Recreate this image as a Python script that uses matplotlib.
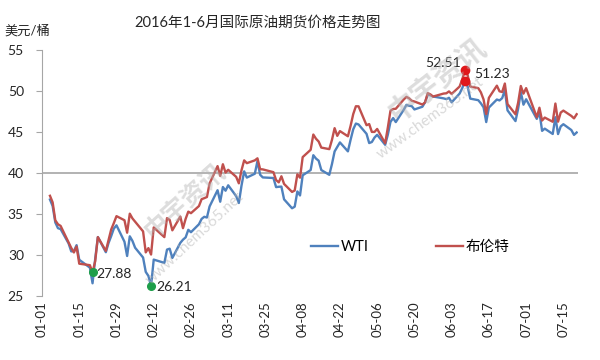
import numpy as np
import pandas as pd
import matplotlib
matplotlib.use("Agg")
import matplotlib.pyplot as plt

plt.rcParams['font.family'] = ['Lato', 'Noto Sans CJK SC', 'DejaVu Sans']

'''
Data:
'''
days_jan = ["01-04", "01-05", "01-06", "01-07", "01-08", "01-11", "01-12", "01-13", "01-14", "01-15",
            "01-19", "01-20", "01-21", "01-22", "01-25", "01-26", "01-27", "01-28", "01-29"]
days_feb = ["02-01", "02-02", "02-03", "02-04", "02-05", "02-08", "02-09", "02-10", "02-11", "02-12",
            "02-16", "02-17", "02-18", "02-19", "02-22", "02-23", "02-24", "02-25", "02-26", "02-29"]
days_mar = ["03-01", "03-02", "03-03", "03-04", "03-07", "03-08", "03-09", "03-10", "03-11", "03-14",
            "03-15", "03-16", "03-17", "03-18", "03-21", "03-22", "03-23", "03-24", "03-28", "03-29",
            "03-30", "03-31"]
days_apr = ["04-01", "04-04", "04-05", "04-06", "04-07", "04-08", "04-11", "04-12", "04-13", "04-14",
            "04-15", "04-18", "04-19", "04-20", "04-21", "04-22", "04-25", "04-26", "04-27", "04-28",
            "04-29"]
days_may = ["05-02", "05-03", "05-04", "05-05", "05-06", "05-09", "05-10", "05-11", "05-12", "05-13",
            "05-16", "05-17", "05-18", "05-19", "05-20", "05-23", "05-24", "05-25", "05-26", "05-27",
            "05-31"]
days_jun = ["06-01", "06-02", "06-03", "06-06", "06-07", "06-08", "06-09", "06-10", "06-13", "06-14",
            "06-15", "06-16", "06-17", "06-20", "06-21", "06-22", "06-23", "06-24", "06-27", "06-28",
            "06-29", "06-30"]
days_jul = ["07-01", "07-05", "07-06", "07-07", "07-08", "07-11", "07-12", "07-13", "07-14", "07-15",
            "07-18", "07-19", "07-20"]

wti_jan = [36.76, 35.97, 33.97, 33.27, 33.16, 31.41, 30.44, 30.48, 31.20, 29.42,
           28.46, 26.55, 29.53, 32.19, 30.34, 31.45, 32.30, 33.22, 33.62]
wti_feb = [31.62, 29.88, 32.28, 31.72, 30.89, 29.69, 27.94, 27.45, 26.21, 29.44,
           29.04, 30.66, 30.77, 29.64, 31.48, 31.87, 32.15, 33.07, 32.78, 33.75]
wti_mar = [34.40, 34.66, 34.57, 35.92, 37.90, 36.50, 38.29, 37.84, 38.50, 37.18,
           36.34, 38.46, 40.20, 39.44, 39.91, 41.45, 39.79, 39.46, 39.39, 38.28,
           38.32, 38.34]
wti_apr = [36.79, 35.70, 35.89, 37.75, 37.26, 39.72, 40.36, 42.17, 41.76, 41.50,
           40.36, 39.78, 41.08, 42.63, 43.18, 43.73, 42.64, 44.04, 45.33, 46.03,
           45.92]
wti_may = [44.78, 43.65, 43.78, 44.32, 44.66, 43.44, 44.66, 46.23, 46.70, 46.21,
           47.72, 48.31, 48.19, 48.16, 47.75, 48.08, 48.62, 49.56, 49.48, 49.33,
           49.10]
wti_jun = [49.01, 49.17, 48.62, 49.69, 50.36, 51.23, 50.56, 49.07, 48.88, 48.49,
           48.01, 46.21, 47.98, 48.96, 48.85, 49.13, 50.11, 47.64, 46.33, 47.85,
           49.88, 48.33]
wti_jul = [48.99, 46.60, 47.43, 45.14, 45.41, 44.76, 46.80, 44.75, 45.68, 45.95,
           45.24, 44.65, 44.94]

brent_jan = [37.22, 36.42, 34.23, 33.75, 33.55, 31.55, 30.86, 30.31, 31.03, 28.94,
             28.76, 27.88, 29.25, 32.18, 30.50, 31.80, 33.10, 33.89, 34.74]
brent_feb = [34.24, 32.72, 35.04, 34.46, 34.06, 32.88, 30.32, 30.84, 30.06, 33.36,
             32.18, 34.50, 34.28, 33.01, 34.69, 33.27, 34.41, 35.29, 35.10, 35.97]
brent_mar = [36.81, 36.93, 37.07, 38.72, 40.84, 39.65, 41.07, 40.05, 40.39, 39.53,
             38.74, 40.33, 41.54, 41.20, 41.54, 41.79, 40.47, 40.44, 40.10, 39.14,
             38.86, 39.60]
brent_apr = [38.67, 37.69, 37.87, 39.84, 39.43, 41.94, 42.83, 44.69, 44.18, 43.84,
             43.10, 42.91, 44.03, 45.47, 44.53, 45.11, 44.48, 45.74, 47.18, 48.14,
             48.13]
brent_may = [45.83, 45.97, 45.01, 45.01, 45.37, 43.63, 45.52, 47.59, 47.81, 47.83,
             48.97, 49.28, 49.11, 48.81, 48.72, 48.35, 48.61, 49.74, 49.59, 49.32,
             49.69]
brent_jun = [49.72, 49.95, 49.64, 50.55, 51.44, 52.51, 51.95, 50.54, 50.35, 49.83,
             48.97, 47.19, 49.17, 50.65, 49.96, 49.88, 50.91, 48.41, 47.16, 48.58,
             50.61, 49.68]
brent_jul = [50.35, 46.80, 47.96, 46.40, 46.76, 46.25, 48.47, 46.26, 47.37, 47.61,
             46.96, 46.66, 47.17]

# highlighted points: (date, value)
low_points = [("01-20", 27.88), ("02-11", 26.21)]
high_points = [("06-08", 52.51), ("06-08", 51.23)]

tick_labels = ["01-01", "01-15", "01-29", "02-12", "02-26", "03-11", "03-25", "04-08",
               "04-22", "05-06", "05-20", "06-03", "06-17", "07-01", "07-15"]

'''
Setup:
'''
days = days_jan + days_feb + days_mar + days_apr + days_may + days_jun + days_jul
dates = pd.to_datetime(["2016-" + d for d in days])
wti = wti_jan + wti_feb + wti_mar + wti_apr + wti_may + wti_jun + wti_jul
brent = brent_jan + brent_feb + brent_mar + brent_apr + brent_may + brent_jun + brent_jul

blue = "#4f81bd"
red = "#c0504d"
grey = "#a6a6a6"
txt = "#262626"

fig = plt.figure(figsize=(6, 3.6), dpi=100)
ax = fig.add_axes([42 / 600, 64 / 360, 536 / 600, 246 / 360])

'''
Create Graphic:
'''
# watermark
fig.text(0.308, 0.444, "中宇资讯", fontsize=18, color="#b4b4b4", alpha=0.45, rotation=42,
         ha="center", va="center", fontweight="bold")
fig.text(0.325, 0.339, "www.chem365.net", fontsize=11, color="#b4b4b4", alpha=0.5, rotation=43,
         ha="center", va="center")
fig.text(0.728, 0.778, "中宇资讯", fontsize=21, color="#b4b4b4", alpha=0.45, rotation=38,
         ha="center", va="center", fontweight="bold")
fig.text(0.717, 0.672, "www.chem365.net", fontsize=11, color="#b4b4b4", alpha=0.5, rotation=36,
         ha="center", va="center")

ax.axhline(40, color=grey, lw=1.2, zorder=1)
ax.plot(dates, wti, color=blue, lw=1.7, label="WTI", zorder=3)
ax.plot(dates, brent, color=red, lw=1.7, label="布伦特", zorder=4)

for d, val in low_points:
    ax.plot(pd.Timestamp("2016-" + d), val, "o", color="#1e9e4a", ms=5.5, zorder=5)
for d, val in high_points:
    ax.plot(pd.Timestamp("2016-" + d), val, "o", color="#e0181b", ms=6, zorder=5)

ax.annotate("27.88", (pd.Timestamp("2016-01-20"), 27.88), xytext=(3, -1),
            textcoords="offset points", fontsize=10, va="center", ha="left", color=txt)
ax.annotate("26.21", (pd.Timestamp("2016-02-11"), 26.21), xytext=(4, -1),
            textcoords="offset points", fontsize=10, va="center", ha="left", color=txt)
ax.annotate("52.51", (pd.Timestamp("2016-06-08"), 52.51), xytext=(-3, 5),
            textcoords="offset points", fontsize=10, va="center", ha="right", color=txt)
ax.annotate("51.23", (pd.Timestamp("2016-06-08"), 51.23), xytext=(7, 5),
            textcoords="offset points", fontsize=10, va="center", ha="left", color=txt)

ax.set_ylim(25, 55)
ax.set_yticks(np.arange(25, 56, 5))
ax.set_xlim(pd.Timestamp("2016-01-01"), pd.Timestamp("2016-07-20") + pd.Timedelta(hours=12))
ax.set_xticks(pd.to_datetime(["2016-" + t for t in tick_labels]))
ax.set_xticklabels(tick_labels, rotation=90, fontsize=9.5, color=txt)
ax.tick_params(axis="x", length=0, pad=4)
ax.tick_params(axis="y", length=4, color=grey, labelsize=10, labelcolor=txt, pad=9)

for s in ["top", "right", "bottom"]:
    ax.spines[s].set_visible(False)
ax.spines["left"].set_color(grey)

ax.legend(loc="center", bbox_to_anchor=(0.687, 0.2), ncol=2, frameon=False, fontsize=10.5,
          handlelength=1.85, handletextpad=0.2, columnspacing=4.6)

fig.text(0.43, 0.936, "2016年1-6月国际原油期货价格走势图", ha="center", va="center",
         fontsize=10.5, color=txt)
fig.text(0.008, 0.917, "美元/桶", ha="left", va="center", fontsize=9.5, color=txt)

fig.savefig("out.png", dpi=100)
